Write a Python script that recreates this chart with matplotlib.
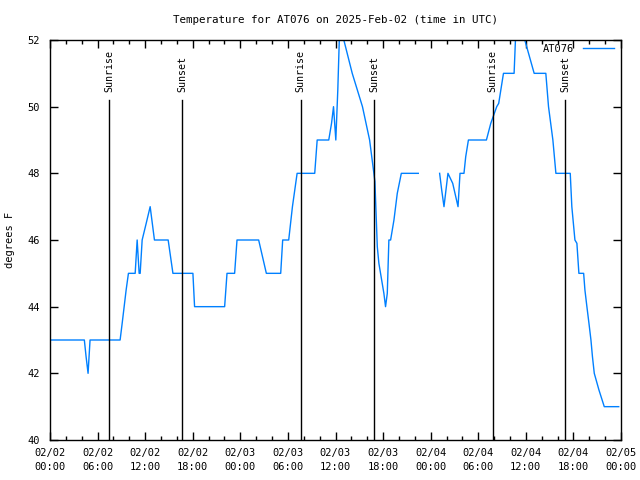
import numpy as np
import matplotlib
matplotlib.use("Agg")
import matplotlib.pyplot as plt
from matplotlib.ticker import MultipleLocator

# hours since 2025-02-02 00:00 UTC, temperature (F); NaN marks data gap
hours = [0.0, 4.33, 4.55, 4.80, 5.05, 8.84, 9.1, 9.35, 9.6, 9.89, 10.74, 10.99, 11.24, 11.37,
         11.62, 12.13, 12.63, 13.17, 14.9, 15.5, 18.02, 18.23, 22.02, 22.32, 23.28, 23.58,
         26.31, 27.28, 29.09, 29.34, 30.1, 30.57, 31.16, 33.38, 33.69, 35.15, 35.5, 35.75,
         36.04, 36.29, 36.54, 36.76, 37.05, 38.11, 39.4, 40.3, 40.84, 40.97, 41.27, 41.47,
         41.68, 42.1, 42.31, 42.53, 42.73, 42.95, 43.37, 43.79, 44.3, 46.44,
         47.5,
         49.13, 49.39, 49.68, 50.18, 50.78, 51.45, 51.7, 52.2, 52.42, 52.76, 55.03, 55.58,
         56.33, 56.58, 57.18, 58.52, 58.86, 59.4, 59.87, 61.05, 62.52, 62.86, 63.41, 63.79,
         65.6, 65.8, 66.19, 66.44, 66.69, 67.29, 67.45, 67.7, 67.96, 68.21, 68.4, 68.63,
         69.22, 69.89, 71.71]
temps = [43, 43, 42.5, 42, 43, 43, 43.5, 44, 44.5, 45, 45, 46, 45, 45,
         46, 46.5, 47, 46, 46, 45, 45, 44, 44, 45, 45, 46,
         46, 45, 45, 46, 46, 47, 48, 48, 49, 49, 49.5, 50,
         49, 50.5, 52.5, 53, 52, 51, 50, 49, 48, 47.75, 45.8, 45.3,
         45, 44.4, 44.0, 44.4, 46, 46, 46.6, 47.4, 48, 48,
         np.nan,
         48, 47.5, 47, 48, 47.7, 47, 48, 48, 48.5, 49, 49, 49.5,
         50, 50.1, 51, 51, 53, 53, 52, 51, 51, 50, 49, 48,
         48, 47, 46, 45.9, 45, 45, 44.5, 44, 43.5, 43, 42.5, 42,
         41.5, 41, 41]

sun_events = [7.45, 16.7, 31.6, 40.9, 55.8, 65.0]
sun_labels = ["Sunrise", "Sunset", "Sunrise", "Sunset", "Sunrise", "Sunset"]

tick_hours = list(range(0, 73, 6))
tick_labels = ["02/02\n00:00", "02/02\n06:00", "02/02\n12:00", "02/02\n18:00",
               "02/03\n00:00", "02/03\n06:00", "02/03\n12:00", "02/03\n18:00",
               "02/04\n00:00", "02/04\n06:00", "02/04\n12:00", "02/04\n18:00",
               "02/05\n00:00"]
y_ticks = [40, 42, 44, 46, 48, 50, 52]

plt.rcParams['font.family'] = ['DejaVu Sans Mono']
fig = plt.figure(figsize=(6.4, 4.8), dpi=100)
ax = fig.add_axes([50/640, 40/480, 571/640, 400/480])

ax.plot(hours, temps, color='#0080ff', lw=1, label='AT076')

for h, lab in zip(sun_events, sun_labels):
    ax.plot([h, h], [40, 50.2], color='black', lw=1)
    ax.text(h, 50.45, lab, rotation=90, ha='center', va='bottom', fontsize=7.2)

ax.set_xlim(0, 72)
ax.set_ylim(40, 52)
ax.set_xticks(tick_hours)
ax.set_xticklabels(tick_labels, fontsize=7.5, linespacing=1.45)
ax.xaxis.set_minor_locator(MultipleLocator(2))
ax.set_yticks(y_ticks)
ax.set_yticklabels([str(v) for v in y_ticks], fontsize=7.5)
ax.tick_params(which='both', direction='in', top=True, right=True, width=1)
ax.tick_params(which='major', length=6)
ax.tick_params(axis='x', which='major', pad=6)
ax.tick_params(axis='y', which='major', pad=7)
ax.tick_params(which='minor', length=3)
for s in ax.spines.values():
    s.set_linewidth(1)

ax.set_ylabel('degrees F', fontsize=7.5)
ax.yaxis.set_label_coords(-0.062, 0.5)
ax.set_title('Temperature for AT076 on 2025-Feb-02 (time in UTC)', fontsize=7.8, pad=12)

leg = ax.legend(loc='upper right', frameon=False, fontsize=7.5, markerfirst=False,
                handlelength=3.0, borderaxespad=0.1, handletextpad=0.8,
                bbox_to_anchor=(0.997, 1.003))

fig.savefig('out.png', dpi=100)
